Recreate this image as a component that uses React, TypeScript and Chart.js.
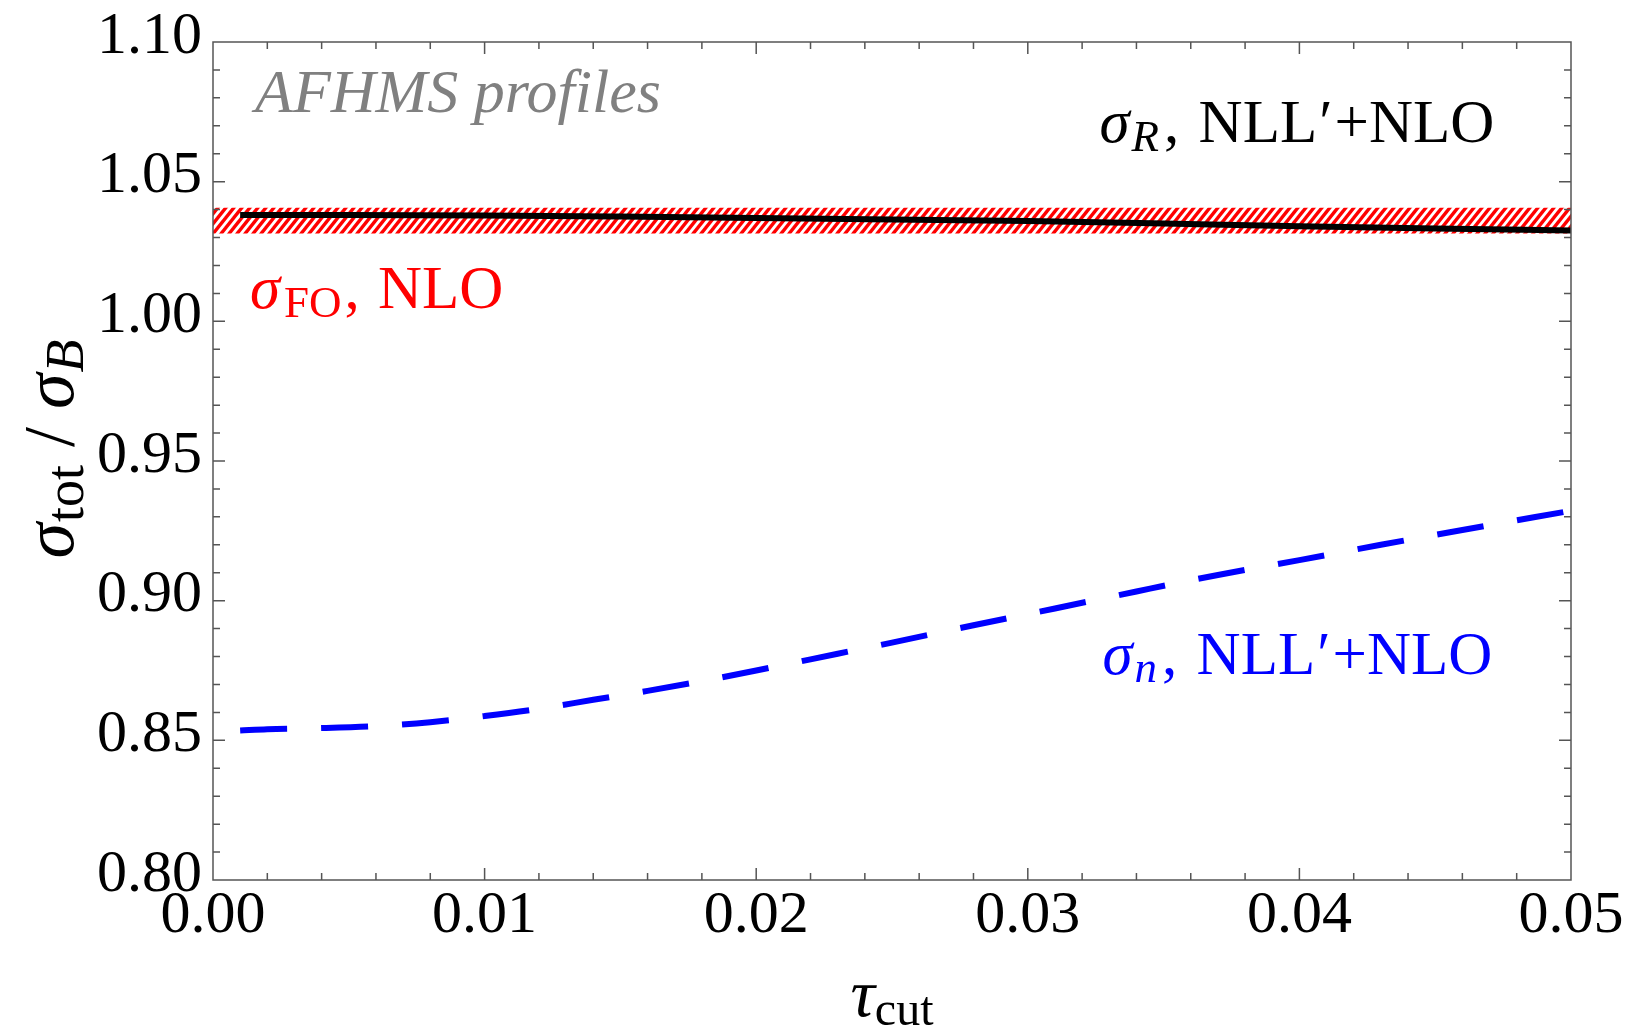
import React, { useEffect, useRef } from 'react';
import { Chart, registerables } from 'chart.js';

Chart.register(...registerables);

// ---- data ----
const xMajorTicks = [0, 0.01, 0.02, 0.03, 0.04, 0.05];
const yMajorTicks = [0.8, 0.85, 0.9, 0.95, 1.0, 1.05, 1.1];
const xMinorStep = 0.002;
const yMinorStep = 0.01;

// sigma_R, NLL'+NLO (black solid)
const tauR = [0.001, 0.005, 0.01, 0.015, 0.02, 0.025, 0.03, 0.035, 0.04, 0.045, 0.05];
const sigmaR = [1.0381, 1.0381, 1.0379, 1.0375, 1.037, 1.0365, 1.0359, 1.035, 1.034, 1.0332, 1.0325];

// sigma_n, NLL'+NLO (blue dashed)
const tauN = [0.001, 0.002, 0.004, 0.006, 0.008, 0.01, 0.012, 0.014, 0.016, 0.018, 0.02, 0.022, 0.025, 0.028, 0.031, 0.034, 0.037, 0.04, 0.043, 0.046, 0.05];
const sigmaN = [0.8535, 0.854, 0.8544, 0.8551, 0.8565, 0.8587, 0.8613, 0.8645, 0.8677, 0.8712, 0.875, 0.879, 0.885, 0.8912, 0.8972, 0.9033, 0.9092, 0.9145, 0.92, 0.9253, 0.9322];

// sigma_FO, NLO band (red hatched)
const tauFO = [0, 0.05];
const sigmaFOHigh = [1.0407, 1.0407];
const sigmaFOLow = [1.0314, 1.0314];

const FONT = 'Liberation Serif';
const TICK_COLOR = '#555555';

type Part = { t: string; size: number; italic?: boolean; dy?: number; gap?: number; pre?: number };

function fontOf(p: Part) {
  return `${p.italic ? 'italic ' : ''}${p.size}px "${FONT}"`;
}

function drawRich(ctx: CanvasRenderingContext2D, parts: Part[], x: number, y: number, color: string, align: 'left' | 'center') {
  const widths = parts.map((p) => {
    ctx.font = fontOf(p);
    return ctx.measureText(p.t).width;
  });
  const total = parts.reduce((s, p, i) => s + widths[i] + (p.gap || 0) + (p.pre || 0), 0);
  let cx = align === 'center' ? x - total / 2 : x;
  ctx.fillStyle = color;
  ctx.textAlign = 'left';
  ctx.textBaseline = 'alphabetic';
  parts.forEach((p, i) => {
    cx += p.pre || 0;
    ctx.font = fontOf(p);
    ctx.fillText(p.t, cx, y + (p.dy || 0));
    cx += widths[i] + (p.gap || 0);
  });
}

const pts = (xs: number[], ys: number[]) => xs.map((x, i) => ({ x, y: ys[i] }));

function makeHatch(): CanvasPattern | string {
  const w = 8;
  const h = 10;
  const c = document.createElement('canvas');
  c.width = w;
  c.height = h;
  const g = c.getContext('2d');
  if (!g) return 'rgba(255,0,0,0.5)';
  g.strokeStyle = '#ff0000';
  g.lineWidth = 3.4;
  g.lineCap = 'square';
  for (const k of [-1, 0, 1]) {
    g.beginPath();
    g.moveTo(k * w, h);
    g.lineTo(k * w + w, 0);
    g.stroke();
  }
  return g.createPattern(c, 'repeat') || 'rgba(255,0,0,0.5)';
}

const framePlugin = {
  id: 'frameTicks',
  afterDatasetsDraw(chart: any) {
    const { ctx, chartArea: a, scales } = chart;
    const xs = scales.x;
    const ys = scales.y;
    ctx.save();
    ctx.strokeStyle = TICK_COLOR;
    ctx.lineWidth = 1.5;
    ctx.strokeRect(a.left, a.top, a.right - a.left, a.bottom - a.top);
    const major = 12;
    const minor = 7;
    ctx.beginPath();
    const nx = Math.round((xs.max - xs.min) / xMinorStep);
    for (let i = 1; i < nx; i++) {
      const v = xs.min + i * xMinorStep;
      const isMajor = xMajorTicks.some((m) => Math.abs(m - v) < 1e-9);
      const len = isMajor ? major : minor;
      const px = xs.getPixelForValue(v);
      ctx.moveTo(px, a.bottom);
      ctx.lineTo(px, a.bottom - len);
      ctx.moveTo(px, a.top);
      ctx.lineTo(px, a.top + len);
    }
    const ny = Math.round((ys.max - ys.min) / yMinorStep);
    for (let i = 1; i < ny; i++) {
      const v = ys.min + i * yMinorStep;
      const isMajor = yMajorTicks.some((m) => Math.abs(m - v) < 1e-9);
      const len = isMajor ? major : minor;
      const py = ys.getPixelForValue(v);
      ctx.moveTo(a.left, py);
      ctx.lineTo(a.left + len, py);
      ctx.moveTo(a.right, py);
      ctx.lineTo(a.right - len, py);
    }
    ctx.stroke();
    ctx.restore();
  },
};

const labelPlugin = {
  id: 'richLabels',
  afterDraw(chart: any) {
    const { ctx, chartArea: a, scales } = chart;
    const xs = scales.x;
    const ys = scales.y;
    ctx.save();
    // in-plot annotations
    drawRich(ctx, [{ t: 'AFHMS profiles', size: 62, italic: true }], xs.getPixelForValue(0.00155), ys.getPixelForValue(1.075), '#808080', 'left');
    drawRich(
      ctx,
      [
        { t: 'σ', size: 61, italic: true, gap: 2 },
        { t: 'R', size: 45, italic: true, dy: 9, gap: 5 },
        { t: ',', size: 61 },
        { t: ' NLL', size: 61, pre: 4 },
        { t: '′', size: 61, pre: 2, gap: 2 },
        { t: '+NLO', size: 61 },
      ],
      xs.getPixelForValue(0.03264),
      ys.getPixelForValue(1.0643),
      '#000000',
      'left'
    );
    drawRich(
      ctx,
      [
        { t: 'σ', size: 61, italic: true, gap: 4 },
        { t: 'FO', size: 45, dy: 9, gap: 3 },
        { t: ',', size: 61 },
        { t: ' NLO', size: 61, pre: 3 },
      ],
      xs.getPixelForValue(0.00136),
      ys.getPixelForValue(1.0049),
      '#ff0000',
      'left'
    );
    drawRich(
      ctx,
      [
        { t: 'σ', size: 61, italic: true, gap: 2 },
        { t: 'n', size: 45, italic: true, dy: 8, gap: 5 },
        { t: ',', size: 61 },
        { t: ' NLL', size: 61, pre: 4 },
        { t: '′', size: 61, pre: 2, gap: 2 },
        { t: '+NLO', size: 61 },
      ],
      xs.getPixelForValue(0.03275),
      ys.getPixelForValue(0.8737),
      '#0000ff',
      'left'
    );
    // x-axis title
    drawRich(
      ctx,
      [
        { t: 'τ', size: 68, italic: true },
        { t: 'cut', size: 48, dy: 9 },
      ],
      (a.left + a.right) / 2,
      1016,
      '#000000',
      'center'
    );
    // y-axis title (rotated)
    ctx.save();
    ctx.translate(73, (a.top + a.bottom) / 2 - 12);
    ctx.rotate(-Math.PI / 2);
    drawRich(
      ctx,
      [
        { t: 'σ', size: 72, italic: true, gap: 1 },
        { t: 'tot', size: 54, dy: 10 },
        { t: ' / ', size: 72 },
        { t: 'σ', size: 72, italic: true, gap: 1 },
        { t: 'B', size: 54, italic: true, dy: 10 },
      ],
      0,
      0,
      '#000000',
      'center'
    );
    ctx.restore();
    ctx.restore();
  },
};

export default function App() {
  const ref = useRef<HTMLCanvasElement | null>(null);

  useEffect(() => {
    const canvas = ref.current;
    if (!canvas) return;
    const hatch = makeHatch();
    const chart = new Chart(canvas, {
      type: 'line',
      data: {
        datasets: [
          {
            label: 'FO high',
            data: pts(tauFO, sigmaFOHigh),
            borderWidth: 0,
            borderColor: 'rgba(0,0,0,0)',
            pointRadius: 0,
            fill: '+1',
            backgroundColor: hatch as any,
            order: 3,
          },
          {
            label: 'FO low',
            data: pts(tauFO, sigmaFOLow),
            borderWidth: 0,
            borderColor: 'rgba(0,0,0,0)',
            pointRadius: 0,
            fill: false,
            order: 4,
          },
          {
            label: 'sigma_R',
            data: pts(tauR, sigmaR),
            borderColor: '#000000',
            borderWidth: 6,
            pointRadius: 0,
            fill: false,
            cubicInterpolationMode: 'monotone',
            borderCapStyle: 'butt',
            order: 2,
          },
          {
            label: 'sigma_n',
            data: pts(tauN, sigmaN),
            borderColor: '#0000ff',
            borderWidth: 6,
            borderDash: [47, 34],
            pointRadius: 0,
            fill: false,
            cubicInterpolationMode: 'monotone',
            borderCapStyle: 'butt',
            order: 1,
          },
        ],
      },
      options: {
        responsive: false,
        animation: false,
        devicePixelRatio: 1,
        layout: { padding: { left: 0, right: 60, top: 42, bottom: 0 } },
        plugins: {
          legend: { display: false },
          tooltip: { enabled: false },
        },
        scales: {
          x: {
            type: 'linear',
            min: 0,
            max: 0.05,
            afterFit: (s: any) => {
              s.height = 149;
            },
            grid: { display: false, drawTicks: false },
            border: { display: false },
            ticks: {
              stepSize: 0.01,
              autoSkip: false,
              maxRotation: 0,
              minRotation: 0,
              padding: 0,
              color: '#000000',
              font: { family: FONT, size: 60 },
              callback: (v: any) => Number(v).toFixed(2),
            },
          },
          y: {
            type: 'linear',
            min: 0.8,
            max: 1.1,
            afterFit: (s: any) => {
              s.width = 213;
            },
            grid: { display: false, drawTicks: false },
            border: { display: false },
            ticks: {
              stepSize: 0.05,
              autoSkip: false,
              padding: 11,
              labelOffset: -5,
              color: '#000000',
              font: { family: FONT, size: 60, lineHeight: 1 },
              callback: (v: any) => Number(v).toFixed(2),
            },
          },
        },
      } as any,
      plugins: [framePlugin, labelPlugin],
    });
    return () => chart.destroy();
  }, []);

  return (
    <div style={{ position: 'fixed', left: 0, top: 0, width: 1631, height: 1029, background: '#ffffff' }}>
      <canvas ref={ref} width={1631} height={1029} style={{ display: 'block', width: 1631, height: 1029 }} />
    </div>
  );
}
